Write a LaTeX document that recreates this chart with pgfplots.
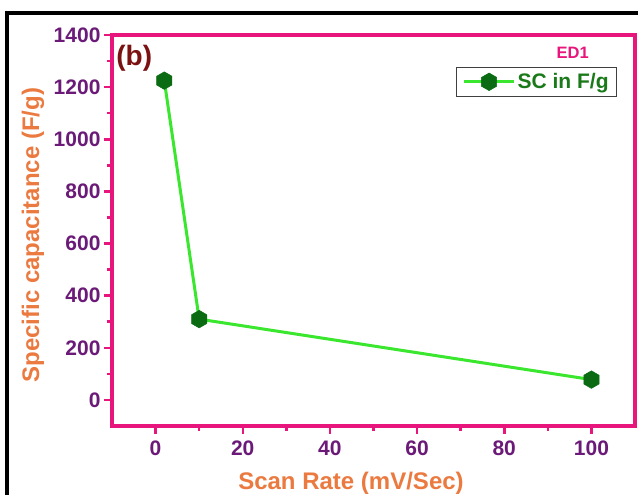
\documentclass[border=0pt]{standalone}
\usepackage{fontspec}
\setmainfont{Liberation Sans}
\usepackage{pgfplots}
\pgfplotsset{compat=1.18}
\definecolor{axpink}{HTML}{E8157C}
\definecolor{tickpurple}{HTML}{6B1A78}
\definecolor{laborange}{HTML}{EB7A40}
\definecolor{bred}{HTML}{7A1212}
\definecolor{lgreen}{HTML}{3AE62E}
\definecolor{mgreen}{HTML}{0B6B12}
\definecolor{tgreen}{HTML}{1A7A1A}
\pgfdeclareplotmark{hexagon*}{%
 \pgfpathmoveto{\pgfpointpolar{90}{\pgfplotmarksize}}%
 \pgfpathlineto{\pgfpointpolar{150}{\pgfplotmarksize}}%
 \pgfpathlineto{\pgfpointpolar{210}{\pgfplotmarksize}}%
 \pgfpathlineto{\pgfpointpolar{270}{\pgfplotmarksize}}%
 \pgfpathlineto{\pgfpointpolar{330}{\pgfplotmarksize}}%
 \pgfpathlineto{\pgfpointpolar{30}{\pgfplotmarksize}}%
 \pgfpathclose
 \pgfusepathqfillstroke}
\begin{document}
\begin{tikzpicture}
\useasboundingbox (0,0) rectangle (638pt,495pt);
\draw[line width=4pt] (7pt,-10pt) -- (7pt,482pt) -- (660pt,482pt);
\begin{axis}[
  at={(112pt,69pt)}, anchor=south west,
  scale only axis, width=523pt, height=391pt,
  xmin=-10, xmax=110, ymin=-100, ymax=1400,
  xtick={0,20,...,100}, ytick={0,200,...,1400},
  minor x tick num=1, minor y tick num=1,
  axis line style={draw=axpink, line width=3.5pt},
  every tick/.style={axpink, line width=2.5pt},
  tick align=outside, tick pos=left,
  major tick length=8pt, minor tick length=5pt,
  ticklabel style={text=tickpurple, font=\fontsize{21}{25}\selectfont\bfseries},
  xticklabel style={yshift=-3pt},
  /pgf/number format/assume math mode=true,
  /pgf/number format/1000 sep={},
  xlabel={Scan Rate (mV/Sec)},
  ylabel={Specific capacitance (F/g)},
  label style={text=laborange, font=\fontsize{24}{28}\selectfont\bfseries},
  xlabel style={at={(axis description cs:0.457,0)}, anchor=center, yshift=-57pt},
  ylabel style={at={(axis description cs:-0.151,0.488)}, anchor=center},
  legend style={at={(rel axis cs:0.9656,0.918)}, anchor=north east,
    draw=darkgray, line width=0.8pt, text=tgreen,
    font=\fontsize{21}{24}\selectfont\bfseries, inner xsep=6pt, inner ysep=4pt},
  legend image code/.code={\draw[mark repeat=2,mark phase=2,#1] plot coordinates {(0pt,0pt) (25pt,0pt) (50pt,0pt)};},
]
\addplot[lgreen, line width=3pt, mark=hexagon*, mark size=8.8pt,
  mark options={fill=mgreen, draw=mgreen, line width=0.5pt}]
  coordinates {(2,1225) (10,310) (100,78)};
\addlegendentry{SC in F/g}
\node[anchor=center, text=axpink, font=\fontsize{16.5}{19}\selectfont\bfseries] at (rel axis cs:0.881,0.955) {ED1};
\node[anchor=west, text=bred, font=\fontsize{28}{32}\selectfont\bfseries, inner sep=0pt] at (rel axis cs:0.008,0.941) {(b)};
\end{axis}
\end{tikzpicture}
\end{document}
